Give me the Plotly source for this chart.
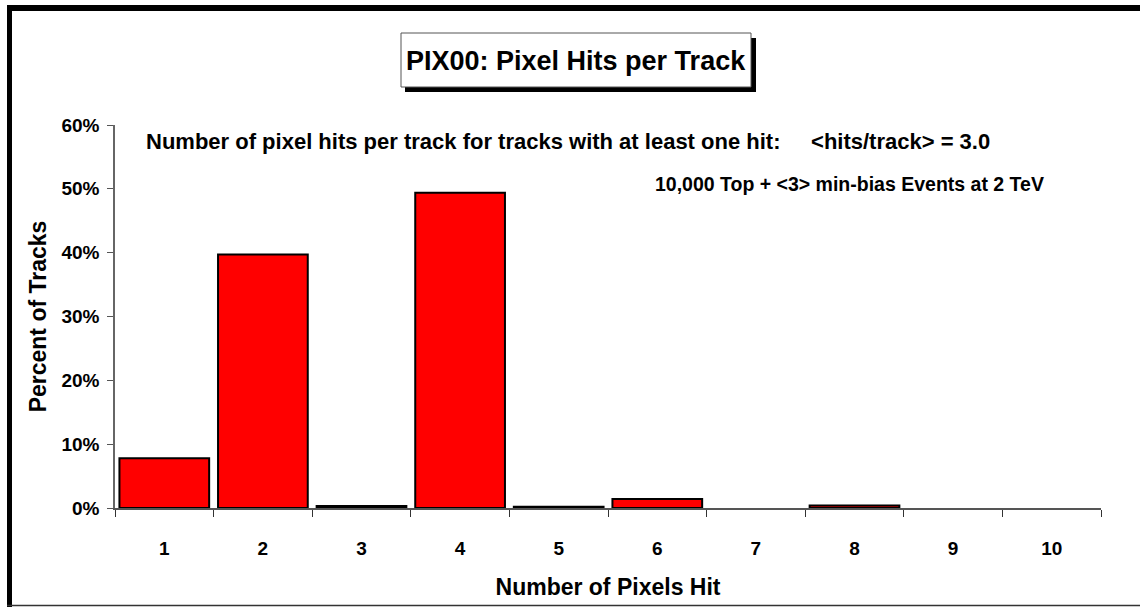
import plotly.graph_objects as go

# ---- data ----
pixels_hit = ["1", "2", "3", "4", "5", "6", "7", "8", "9", "10"]
percent_tracks = [7.8, 39.7, 0.3, 49.4, 0.2, 1.4, 0.0, 0.4, 0.0, 0.0]
y_ticks = [0, 10, 20, 30, 40, 50, 60]
y_tick_labels = [f"{v}%" for v in y_ticks]

W, H = 1152, 607  # slightly wider than the window so the right edge stays off-screen
# plot area in page pixels
PL, PR, PT, PB = 115, 1101, 125, 508

def px(x):  # page x -> paper
    return (x - PL) / (PR - PL)

def py(y):  # page y -> paper
    return (PB - y) / (PB - PT)

FONT = "Arial, Liberation Sans, sans-serif"

fig = go.Figure()
fig.add_trace(go.Bar(
    x=pixels_hit, y=percent_tracks, width=0.91,
    marker=dict(color="#ff0000",
                line=dict(color="black", width=[2 if v > 0 else 0 for v in percent_tracks])),
    hoverinfo="x+y",
))

shapes = []
# outer frame (top, left thick, bottom thin)
shapes.append(dict(type="rect", xref="paper", yref="paper", x0=px(7), x1=px(1152), y0=py(11), y1=py(5),
                   fillcolor="black", line=dict(width=0), layer="above"))
shapes.append(dict(type="rect", xref="paper", yref="paper", x0=px(7), x1=px(12), y0=py(607), y1=py(5),
                   fillcolor="black", line=dict(width=0), layer="above"))
shapes.append(dict(type="line", xref="paper", yref="paper", x0=px(7), x1=px(1152), y0=py(605.5), y1=py(605.5),
                   line=dict(color="#333333", width=1.5), layer="above"))
# title box with shadow
shapes.append(dict(type="rect", xref="paper", yref="paper", x0=px(405), x1=px(756), y0=py(92), y1=py(38),
                   fillcolor="black", line=dict(width=0)))
shapes.append(dict(type="rect", xref="paper", yref="paper", x0=px(401), x1=px(751), y0=py(87), y1=py(33),
                   fillcolor="white", line=dict(color="#555555", width=1)))

annotations = [
    dict(text="PIX00: Pixel Hits per Track", xref="paper", yref="paper", x=px(576), y=py(61),
         showarrow=False, font=dict(family=FONT, size=27, color="black", weight="bold"),
         xanchor="center", yanchor="middle"),
    dict(text="Number of pixel hits per track for tracks with at least one hit:&nbsp;&nbsp;&nbsp;&nbsp; &lt;hits/track&gt; = 3.0",
         xref="paper", yref="paper", x=px(144), y=py(141), showarrow=False,
         font=dict(family=FONT, size=22, color="black", weight="bold"),
         xanchor="left", yanchor="middle"),
    dict(text="10,000 Top + &lt;3&gt; min-bias Events at 2 TeV",
         xref="paper", yref="paper", x=px(653), y=py(184), showarrow=False,
         font=dict(family=FONT, size=19.5, color="black", weight="bold"),
         xanchor="left", yanchor="middle"),
]

fig.update_layout(
    width=W, height=H,
    margin=dict(l=PL, r=W - PR, t=PT, b=H - PB, pad=0),
    paper_bgcolor="white", plot_bgcolor="white",
    showlegend=False, bargap=0.09,
    shapes=shapes, annotations=annotations,
    font=dict(family=FONT, color="black"),
)
fig.update_xaxes(
    type="category", tickson="boundaries", ticks="outside", ticklen=7, tickwidth=1, tickcolor="#333333",
    showline=True, linecolor="#555555", linewidth=1.5, showgrid=False, zeroline=False,
    tickfont=dict(family=FONT, size=19, color="black", weight="bold"), ticklabelstandoff=22,
    title=dict(text="Number of Pixels Hit", font=dict(family=FONT, size=23, color="black", weight="bold"),
               standoff=21),
)
fig.update_yaxes(
    range=[0, 60], tickvals=y_ticks, ticktext=y_tick_labels, ticks="outside", ticklen=6, tickwidth=1,
    tickcolor="#555555", showline=True, linecolor="#666666", linewidth=1.5, showgrid=False, zeroline=False,
    tickfont=dict(family=FONT, size=19, color="black", weight="bold"), ticklabelstandoff=4,
    title=dict(text="Percent of Tracks", font=dict(family=FONT, size=23, color="black", weight="bold"),
               standoff=8),
)

fig.write_html(
    "out.html",
    config={"displayModeBar": False},
    post_script=(
        "document.body.style.margin='0';"
        "document.body.style.overflow='hidden';"
        "document.documentElement.style.overflow='hidden';"
    ),
)
